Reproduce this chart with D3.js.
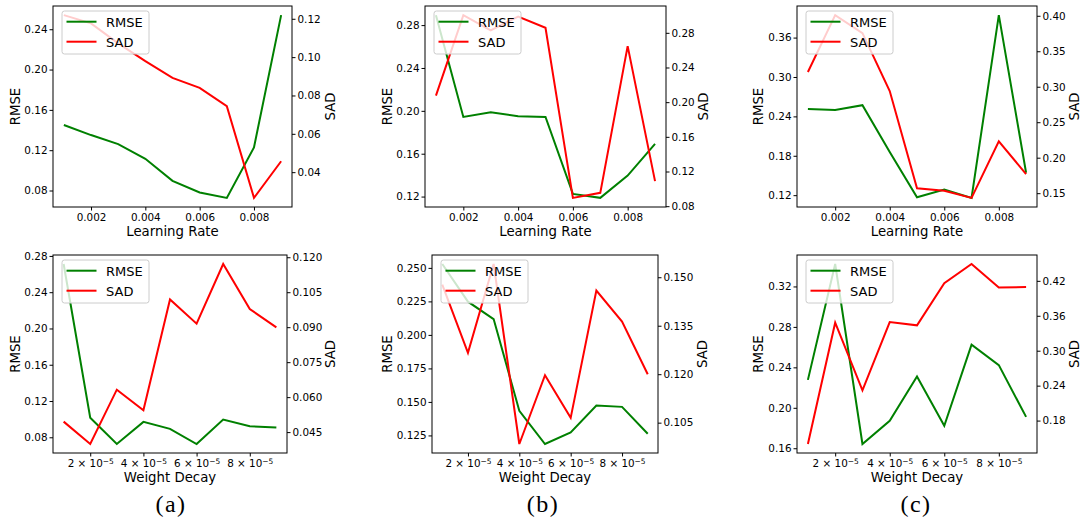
<!DOCTYPE html>
<html>
<head>
<meta charset="utf-8">
<script src="https://cdn.jsdelivr.net/npm/d3@7"></script>
<style>
body { margin: 0; background: #fff; }
svg text { font-family: "DejaVu Sans", sans-serif; }
</style>
</head>
<body>
<script>
// x values
var lrValues = [0.001, 0.002, 0.003, 0.004, 0.005, 0.006, 0.007, 0.008, 0.009];
var wdValues = [1e-5, 2e-5, 3e-5, 4e-5, 5e-5, 6e-5, 7e-5, 8e-5, 9e-5];

// learning rate, panels (a) (b) (c)
var rmseLrA = [0.145, 0.135, 0.126, 0.1115, 0.0896, 0.078, 0.0727, 0.1228, 0.254];
var sadLrA  = [0.1219, 0.1176, 0.1072, 0.0979, 0.0892, 0.084, 0.0744, 0.0266, 0.0457];
var rmseLrB = [0.2893, 0.1943, 0.1987, 0.195, 0.1943, 0.1225, 0.1188, 0.1396, 0.1691];
var sadLrB  = [0.2076, 0.3004, 0.2827, 0.2988, 0.2858, 0.0896, 0.0954, 0.2646, 0.1089];
var rmseLrC = [0.2512, 0.2497, 0.2571, 0.1859, 0.1169, 0.1286, 0.1159, 0.3942, 0.1542];
var sadLrC  = [0.3208, 0.4009, 0.3755, 0.2939, 0.1568, 0.1535, 0.1434, 0.2231, 0.1769];

// weight decay, panels (a) (b) (c)
var rmseWdA = [0.2711, 0.1015, 0.0726, 0.097, 0.0893, 0.0726, 0.0996, 0.0922, 0.0907];
var sadWdA  = [0.0495, 0.0399, 0.0632, 0.0544, 0.1019, 0.0915, 0.1171, 0.0978, 0.0899];
var rmseWdB = [0.2529, 0.2248, 0.2118, 0.1434, 0.1186, 0.1272, 0.1473, 0.1463, 0.1262];
var sadWdB  = [0.1477, 0.1266, 0.1541, 0.0984, 0.1197, 0.1065, 0.1459, 0.1363, 0.12];
var rmseWdC = [0.2276, 0.3422, 0.1642, 0.1871, 0.2309, 0.1822, 0.2625, 0.2422, 0.191];
var sadWdC  = [0.1398, 0.3481, 0.2321, 0.3492, 0.3436, 0.416, 0.4489, 0.4087, 0.4092];

// tick labels
var lrTicks = [0.002, 0.004, 0.006, 0.008];
var wdTicks = [2e-5, 4e-5, 6e-5, 8e-5];
var wdTickLabels = ["2", "4", "6", "8"];

var rmseTicksLrA = [0.08, 0.12, 0.16, 0.20, 0.24];
var sadTicksLrA  = [0.04, 0.06, 0.08, 0.10, 0.12];
var rmseTicksLrB = [0.12, 0.16, 0.20, 0.24, 0.28];
var sadTicksLrB  = [0.08, 0.12, 0.16, 0.20, 0.24, 0.28];
var rmseTicksLrC = [0.12, 0.18, 0.24, 0.30, 0.36];
var sadTicksLrC  = [0.15, 0.20, 0.25, 0.30, 0.35, 0.40];
var rmseTicksWdA = [0.08, 0.12, 0.16, 0.20, 0.24, 0.28];
var sadTicksWdA  = [0.045, 0.060, 0.075, 0.090, 0.105, 0.120];
var rmseTicksWdB = [0.125, 0.150, 0.175, 0.200, 0.225, 0.250];
var sadTicksWdB  = [0.105, 0.120, 0.135, 0.150];
var rmseTicksWdC = [0.16, 0.20, 0.24, 0.28, 0.32];
var sadTicksWdC  = [0.18, 0.24, 0.30, 0.36, 0.42];

var captions = ["(a)", "(b)", "(c)"];
var captionX = [171, 543, 916];

var panels = [
    {x: lrValues, rmse: rmseLrA, sad: sadLrA, xt: lrTicks, lt: rmseTicksLrA, rt: sadTicksLrA, lf: ".2f", rf: ".2f",
     left: 53, right: 292, top: 6, bottom: 207, label: "Learning Rate", labL: 15, labR: 330},
    {x: lrValues, rmse: rmseLrB, sad: sadLrB, xt: lrTicks, lt: rmseTicksLrB, rt: sadTicksLrB, lf: ".2f", rf: ".2f",
     left: 425, right: 666, top: 6, bottom: 207, label: "Learning Rate", labL: 387, labR: 703},
    {x: lrValues, rmse: rmseLrC, sad: sadLrC, xt: lrTicks, lt: rmseTicksLrC, rt: sadTicksLrC, lf: ".2f", rf: ".2f",
     left: 797, right: 1037, top: 6, bottom: 207, label: "Learning Rate", labL: 758, labR: 1074.5},
    {x: wdValues, rmse: rmseWdA, sad: sadWdA, xt: wdTicks, lt: rmseTicksWdA, rt: sadTicksWdA, lf: ".2f", rf: ".3f",
     left: 53, right: 287, top: 255, bottom: 453, label: "Weight Decay", labL: 15, labR: 330},
    {x: wdValues, rmse: rmseWdB, sad: sadWdB, xt: wdTicks, lt: rmseTicksWdB, rt: sadTicksWdB, lf: ".3f", rf: ".3f",
     left: 432, right: 658, top: 255, bottom: 453, label: "Weight Decay", labL: 387, labR: 702},
    {x: wdValues, rmse: rmseWdC, sad: sadWdC, xt: wdTicks, lt: rmseTicksWdC, rt: sadTicksWdC, lf: ".2f", rf: ".2f",
     left: 797, right: 1037, top: 255, bottom: 453, label: "Weight Decay", labL: 758, labR: 1074.5}
];

// matplotlib style 5% margins
function pad(ext) {
    var m = (ext[1] - ext[0]) * 0.05;
    return [ext[0] - m, ext[1] + m];
}

var svg = d3.select("body").append("svg")
    .attr("width", 1081)
    .attr("height", 522);

panels.forEach(function (p) {
    var x = d3.scaleLinear().domain(pad(d3.extent(p.x))).range([p.left, p.right]);
    var yL = d3.scaleLinear().domain(pad(d3.extent(p.rmse))).range([p.bottom, p.top]);
    var yR = d3.scaleLinear().domain(pad(d3.extent(p.sad))).range([p.bottom, p.top]);
    var g = svg.append("g");

    var lineL = d3.line().x(function (d, i) { return x(p.x[i]); }).y(function (d) { return yL(d); });
    var lineR = d3.line().x(function (d, i) { return x(p.x[i]); }).y(function (d) { return yR(d); });

    g.append("path").attr("d", lineL(p.rmse))
        .attr("fill", "none").attr("stroke", "#008000").attr("stroke-width", 2);
    g.append("path").attr("d", lineR(p.sad))
        .attr("fill", "none").attr("stroke", "#ff0000").attr("stroke-width", 2);

    // frame
    g.append("rect")
        .attr("x", p.left).attr("y", p.top)
        .attr("width", p.right - p.left).attr("height", p.bottom - p.top)
        .attr("fill", "none").attr("stroke", "#000").attr("stroke-width", 1);

    var xa = g.append("g")
        .attr("transform", "translate(0," + p.bottom + ")")
        .call(d3.axisBottom(x).tickValues(p.xt).tickSize(3.5).tickPadding(3.5)
            .tickFormat(d3.format(".3f")));
    var la = g.append("g")
        .attr("transform", "translate(" + p.left + ",0)")
        .call(d3.axisLeft(yL).tickValues(p.lt).tickSize(3.5).tickPadding(2)
            .tickFormat(d3.format(p.lf)));
    var ra = g.append("g")
        .attr("transform", "translate(" + p.right + ",0)")
        .call(d3.axisRight(yR).tickValues(p.rt).tickSize(3.5).tickPadding(2)
            .tickFormat(d3.format(p.rf)));

    [xa, la, ra].forEach(function (a) {
        a.select(".domain").remove();
        a.attr("font-family", "DejaVu Sans").attr("font-size", 10.4);
        a.selectAll("text").attr("fill", "#000");
        a.selectAll("line").attr("stroke", "#000");
    });

    // weight decay ticks as 2 × 10^-5
    if (p.x === wdValues) {
        xa.selectAll("text").each(function (d, i) {
            var t = d3.select(this).text(null);
            t.append("tspan").text(wdTickLabels[i] + " \u00d7 10");
            t.append("tspan").attr("dy", "-0.5em").attr("font-size", "0.72em").text("\u22125");
        });
    }

    g.append("text")
        .attr("x", (p.left + p.right) / 2)
        .attr("y", p.bottom + 28.5)
        .attr("text-anchor", "middle")
        .style("font-size", "13.3px")
        .text(p.label);

    g.append("text")
        .attr("transform", "translate(" + (p.labL + 4.8) + "," + (p.top + p.bottom) / 2 + ") rotate(-90)")
        .attr("text-anchor", "middle")
        .style("font-size", "13.3px")
        .text("RMSE");
    g.append("text")
        .attr("transform", "translate(" + (p.labR + 4.8) + "," + (p.top + p.bottom) / 2 + ") rotate(-90)")
        .attr("text-anchor", "middle")
        .style("font-size", "13.3px")
        .text("SAD");

    // legend
    var lg = g.append("g").attr("transform", "translate(" + (p.left + 9) + "," + (p.top + 5) + ")");
    lg.append("rect")
        .attr("width", 87).attr("height", 43).attr("rx", 2.5)
        .attr("fill", "#fff").attr("fill-opacity", 0.8)
        .attr("stroke", "#cccccc").attr("stroke-width", 1);
    var items = [{name: "RMSE", color: "#008000"}, {name: "SAD", color: "#ff0000"}];
    items.forEach(function (it, i) {
        lg.append("line")
            .attr("x1", 4.5).attr("x2", 34.5)
            .attr("y1", 10.7 + i * 20).attr("y2", 10.7 + i * 20)
            .attr("stroke", it.color).attr("stroke-width", 2);
        lg.append("text")
            .attr("x", 44).attr("y", 15.5 + i * 20)
            .style("font-size", "13px")
            .text(it.name);
    });
});

svg.selectAll(".caption")
    .data(captions)
    .enter()
    .append("text")
    .attr("class", "caption")
    .attr("x", function (d, i) { return captionX[i]; })
    .attr("y", 512)
    .attr("text-anchor", "middle")
    .style("font-family", "'Liberation Serif', serif")
    .style("font-size", "24px")
    .style("letter-spacing", "1.5px")
    .text(function (d) { return d; });
</script>
</body>
</html>
